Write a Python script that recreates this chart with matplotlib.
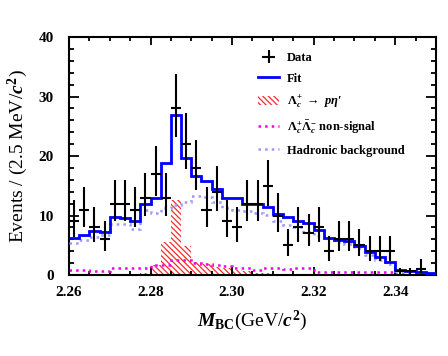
import numpy as np
import matplotlib
matplotlib.use("Agg")
import matplotlib.pyplot as plt
from matplotlib.ticker import MultipleLocator, FormatStrFormatter

plt.rcParams['font.family'] = ['Liberation Serif', 'DejaVu Serif']
plt.rcParams['font.weight'] = 'bold'
plt.rcParams['mathtext.fontset'] = 'custom'
plt.rcParams['mathtext.rm'] = 'Liberation Serif:bold'
plt.rcParams['mathtext.bf'] = 'Liberation Serif:bold'
plt.rcParams['mathtext.it'] = 'Liberation Serif:italic:bold'
plt.rcParams['hatch.color'] = '#ff2a2a'
plt.rcParams['hatch.linewidth'] = 0.9

# ---- data (2.5 MeV bins from 2.26 to 2.35 GeV) ----
x_min, x_max, n_bins = 2.26, 2.35, 36
data_counts = [9, 11, 8, 6, 12, 12, 11, 13, 17, 13, 28, 22, 18, 11, 14, 9, 8, 12,
               12, 15, 10, 5, 8, 7, 8, 4, 6, 6, 5, 4, 4, 4, 0.6, 0.6, 1, np.nan]
fit_vals = [6.3, 6.7, 7.4, 7.2, 9.8, 9.5, 9.0, 12.0, 12.9, 18.8, 26.9, 19.6, 16.6, 15.8,
            14.4, 13.0, 13.0, 11.9, 11.9, 11.5, 10.3, 9.8, 9.1, 8.7, 7.6, 6.2, 5.9, 5.8,
            4.9, 3.9, 3.1, 2.2, 0.84, 0.67, 0.55, 0.4]
signal_vals = [0, 0, 0, 0, 0, 0, 0.1, 0.3, 1.6, 5.6, 12.6, 4.8, 2.2, 1.8, 1.4, 1.2, 0.84,
               0.6, 0.4, 0.3, 0.2, 0.1, 0.05, 0, 0, 0, 0, 0, 0, 0, 0, 0, 0, 0, 0, 0]
nonsig_vals = [0.84, 0.84, 0.6, 0.6, 1.1, 1.1, 1.1, 1.1, 1.7, 1.7, 2.6, 2.5, 2.0, 1.9, 1.7,
               1.5, 1.2, 1.1, 0.9, 1.1, 1.1, 1.0, 1.1, 1.1, 0.56, 0.56, 0.56, 0.5, 0.5, 0.5,
               0.5, 0.5, 0.2, 0.2, 0.1, 0.1]
hadronic_vals = [5.3, 5.9, 6.4, 6.7, 8.5, 8.5, 7.8, 10.9, 10.4, 11.2, 11.8, 12.3, 13.2, 13.1,
                 12.2, 11.2, 11.0, 10.8, 10.5, 10.1, 9.0, 8.4, 8.1, 7.3, 6.55, 6.2, 5.6, 5.2,
                 4.5, 3.4, 2.5, 1.85, 0.67, 0.6, 0.5, 0.4]

x_ticks = [2.26, 2.28, 2.30, 2.32, 2.34]
y_ticks = [0, 10, 20, 30, 40]

edges = np.linspace(x_min, x_max, n_bins + 1)
centers = 0.5 * (edges[:-1] + edges[1:])
half_w = 0.5 * (edges[1] - edges[0])

counts = np.array(data_counts, dtype=float)
err_lo = np.sqrt(counts + 0.25) - 0.5
err_hi = np.sqrt(counts + 0.25) + 0.5
small = counts < 1
err_lo[small] = counts[small]
err_hi[small] = counts[small]

fig = plt.figure(figsize=(4.48, 3.56), dpi=100)
ax = fig.add_axes([0.154, 0.2275, 0.819, 0.6685])

red = '#ff2a2a'
h_sig = ax.stairs(signal_vals, edges, fill=True, facecolor='none', edgecolor=red,
                  hatch='\\\\\\\\\\\\', linewidth=0, baseline=0, zorder=1)
h_ns, = ax.plot([], [], color='#ee00ee', linestyle=':', linewidth=1.8)
ax.stairs(nonsig_vals, edges, color='#ee00ee', linestyle=':', linewidth=1.8,
          baseline=None, zorder=2)
h_had, = ax.plot([], [], color='#9999ff', linestyle=':', linewidth=1.8)
ax.stairs(hadronic_vals, edges, color='#9999ff', linestyle=':', linewidth=1.8,
          baseline=None, zorder=3)
h_fit, = ax.plot([], [], color='#0000ff', linewidth=2.0)
ax.stairs(fit_vals, edges, color='#0000ff', linewidth=2.0, baseline=None, zorder=4)
h_data = ax.errorbar(centers, counts, yerr=[err_lo, err_hi], xerr=half_w, fmt='none',
                     ecolor='black', elinewidth=1.5, capsize=0, zorder=5)

ax.set_xlim(x_min, x_max)
ax.set_ylim(0, 40)
ax.set_xticks(x_ticks)
ax.set_yticks(y_ticks)
ax.xaxis.set_major_formatter(FormatStrFormatter('%.2f'))
ax.xaxis.set_minor_locator(MultipleLocator(0.005))
ax.yaxis.set_minor_locator(MultipleLocator(2))
ax.tick_params(which='both', direction='in', top=True, right=True, width=1.3)
ax.tick_params(axis='x', which='major', length=5.5, pad=8, labelsize=11)
ax.tick_params(axis='x', which='minor', length=3)
ax.tick_params(axis='y', which='major', length=7.5, pad=11, labelsize=11)
ax.tick_params(axis='y', which='minor', length=3.5)
for s in ax.spines.values():
    s.set_linewidth(1.5)

ax.set_xlabel(r'$\mathit{M}_{\mathrm{BC}}$(GeV/$\mathit{c}^{2}$)', fontsize=14, labelpad=7)
ax.set_ylabel(r'Events / (2.5 MeV/$\mathit{c}^{2}$)', fontsize=14, labelpad=6)

labels = ['Data', 'Fit',
          r'$\mathrm{\Lambda}_{\mathit{c}}^{+}\ \rightarrow\ \mathit{p\eta}$′',
          r'$\mathrm{\Lambda}_{\mathit{c}}^{+}\bar{\mathrm{\Lambda}}_{\mathit{c}}^{-}$ non-signal',
          'Hadronic background']
leg = ax.legend([h_data, h_fit, h_sig, h_ns, h_had], labels,
                loc='upper left', bbox_to_anchor=(258 / 448, 1 - 52 / 356),
                bbox_transform=fig.transFigure, frameon=False, fontsize=9,
                handlelength=1.7, handletextpad=0.6, labelspacing=0.7,
                borderpad=0, borderaxespad=0)

fig.savefig('out.png', dpi=100)
